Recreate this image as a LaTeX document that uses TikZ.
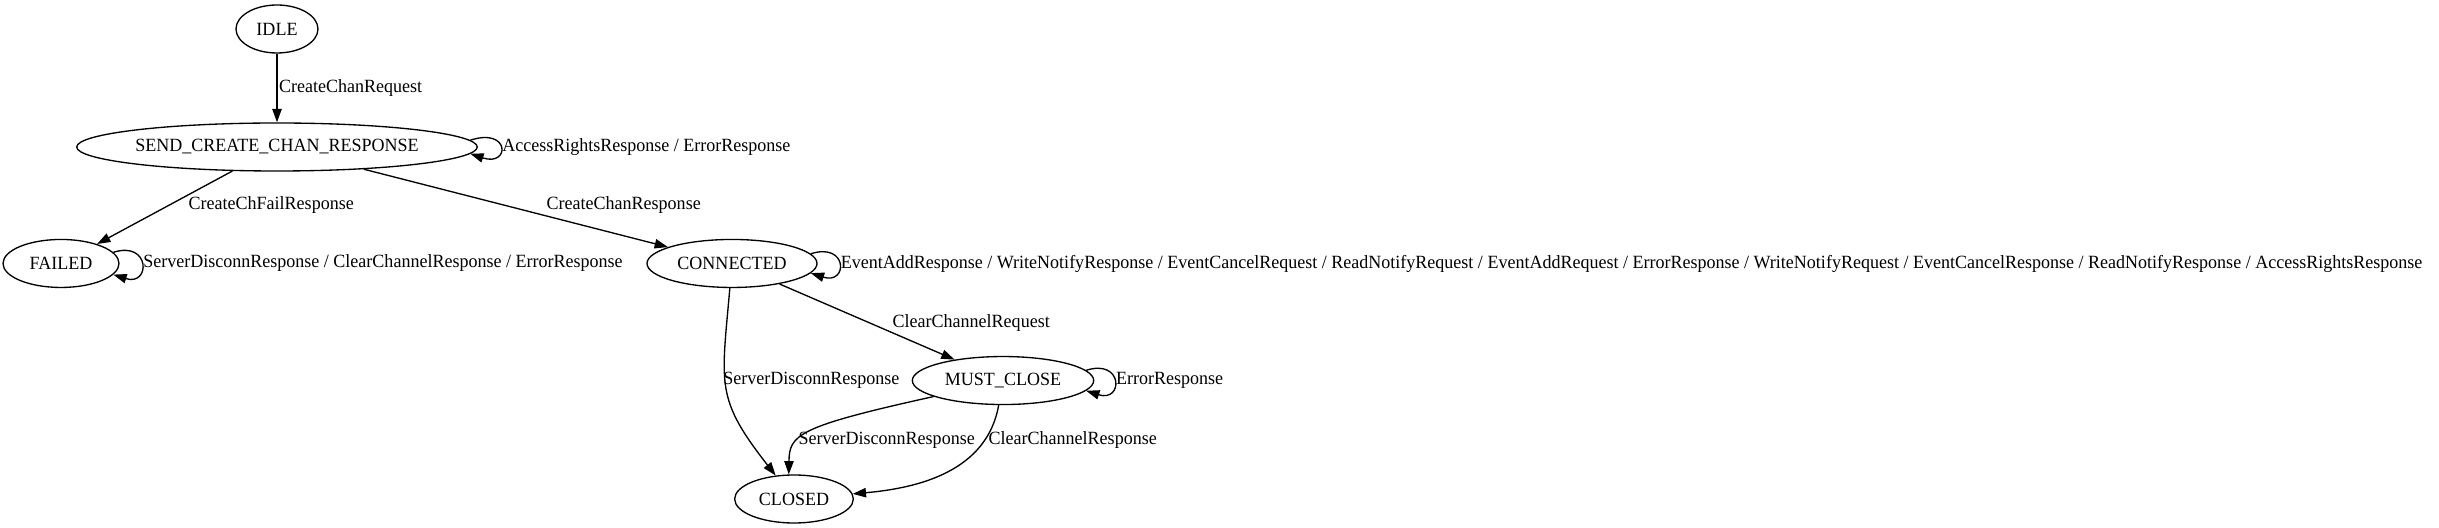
\documentclass[tikz,border=0pt]{standalone}
\usepackage{fontspec}
\setmainfont{Liberation Serif}[FakeStretch=0.965]
\usetikzlibrary{shapes.geometric, arrows.meta}

\begin{document}
\begin{tikzpicture}[x=1pt, y=1pt,
	every node/.style={font=\fontsize{14pt}{16pt}\selectfont},
	state/.style={draw, ellipse, line width=1pt, minimum height=36pt, inner xsep=0pt},
	trans/.style={line width=1pt, -{Triangle[length=10pt, width=7pt]}},
	lbl/.style={inner sep=1pt}]
	\useasboundingbox (0,0) rectangle (1829.25,396);

	\node[state, minimum width=61.5pt] (idle) at (207.75,374.25) {IDLE};
	\node[state, minimum width=300pt] (sccr) at (207.75,285.75) {SEND\_CREATE\_CHAN\_RESPONSE};
	\node[state, minimum width=87pt] (failed) at (45.75,198.4) {FAILED};
	\node[state, minimum width=127.5pt] (conn) at (549,198.4) {CONNECTED};
	\node[state, minimum width=136pt] (must) at (752.25,110.6) {MUST\_CLOSE};
	\node[state, minimum width=89pt] (closed) at (595.5,21.75) {CLOSED};

	\draw[trans] (idle) -- (sccr) node[lbl, midway, right] (lblReq) {CreateChanRequest};
	\draw[trans] (sccr.2.5) .. controls +(30,10) and +(30,-10) .. (sccr.-2.5) node[lbl, pos=.5, right] (lblSccr) {AccessRightsResponse / ErrorResponse};
	\draw[trans] (sccr) -- (failed) node[lbl, anchor=west] (lblFail) at (140,242.25) {CreateChFailResponse};
	\draw[trans] (sccr) -- (conn) node[lbl, anchor=west] (lblChan) at (408.5,242.25) {CreateChanResponse};
	\draw[trans] (failed.12) .. controls +(28,9) and +(28,-9) .. (failed.-12) node[lbl, pos=.5, right] (lblFailed) {ServerDisconnResponse / ClearChannelResponse / ErrorResponse};

	\draw[trans] (conn.7) .. controls +(28,9) and +(28,-9) .. (conn.-7) node[lbl, pos=.5, right] (lblConn) {EventAddResponse / WriteNotifyResponse / EventCancelRequest / ReadNotifyRequest / EventAddRequest / ErrorResponse / WriteNotifyRequest / EventCancelResponse / ReadNotifyResponse / AccessRightsResponse};
	\draw[trans] (conn) -- (must) node[lbl, anchor=west] (lblClearReq) at (668,153.75) {ClearChannelRequest};
	\draw[trans] (conn) to[out=-95, in=128, looseness=1.3] (closed) node[lbl, anchor=west] (lblDisc) at (541,110.6) {ServerDisconnResponse};

	\draw[trans] (must.7) .. controls +(28,9) and +(28,-9) .. (must.-7) node[lbl, pos=.5, right] (lblMust) {ErrorResponse};
	\draw[trans] (must.193) .. controls (598,76) and (592,70) .. (closed.102) node[lbl, anchor=west] (lblDisc2) at (597.5,66) {ServerDisconnResponse};
	\draw[trans] (must) to[out=-100, in=5] (closed) node[lbl, anchor=west] (lblClearResp) at (740,66) {ClearChannelResponse};
\end{tikzpicture}
\end{document}
